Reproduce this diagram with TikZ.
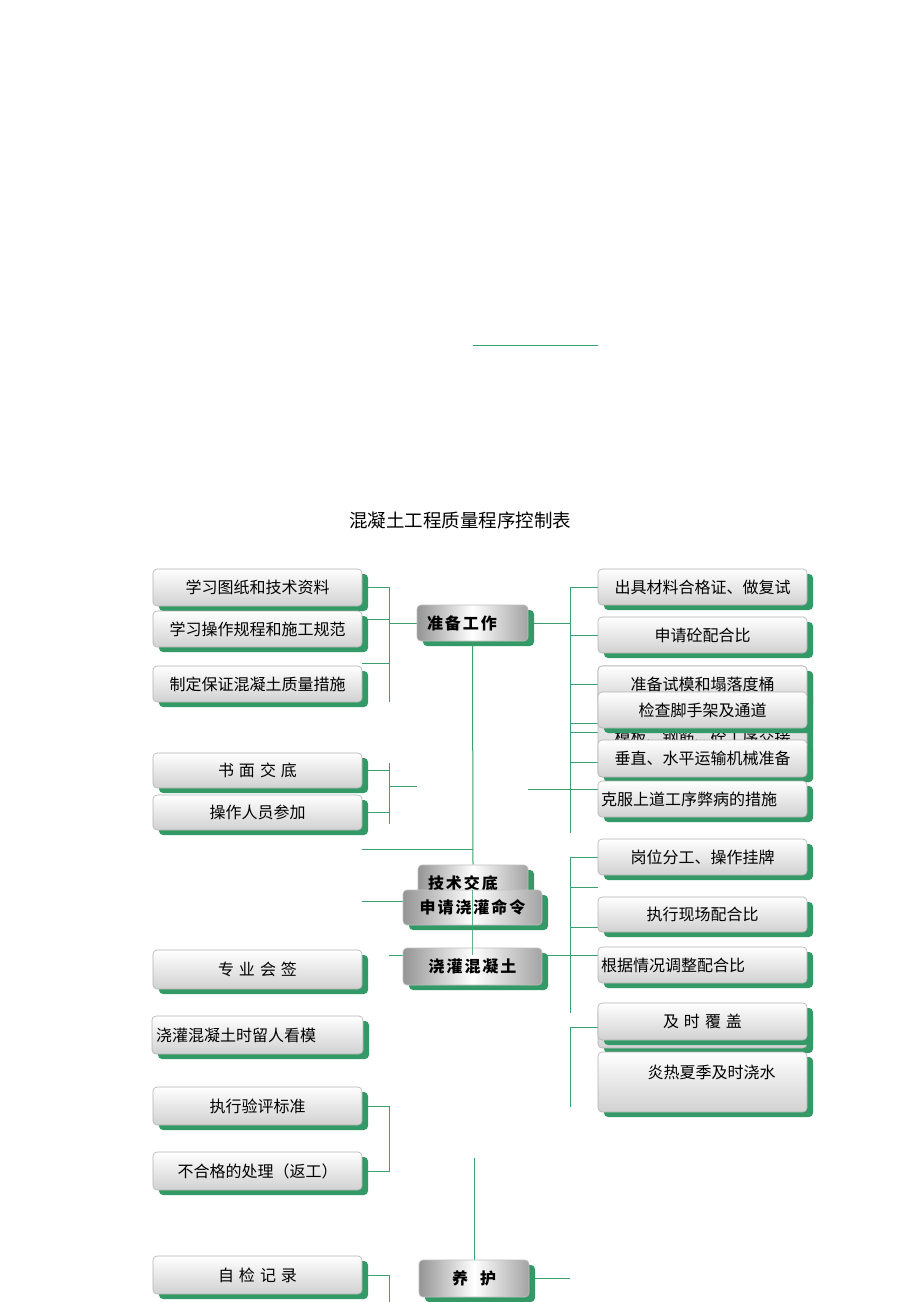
\documentclass[tikz,border=0pt]{standalone}
\usepackage{fontspec}
\newfontfamily\cjk{Noto Sans CJK SC}
\newfontfamily\cjkhub[LetterSpace=12]{Noto Sans CJK SC}
\usepackage{tikz}
\usetikzlibrary{positioning}
\usetikzlibrary{shadows,backgrounds}
\definecolor{boxgreen}{RGB}{51,153,102}
\definecolor{wire}{RGB}{58,160,108}
\tikzstyle{item}=[draw=black!30,line width=0.6,rounded corners=4,top color=white,bottom color=black!18,
                  minimum width=209,minimum height=37,inner sep=0,text=black,
                  font=\cjk\fontsize{16}{16}\selectfont,
                  drop shadow={shadow xshift=6pt,shadow yshift=-5pt,fill=boxgreen,opacity=1}]
\tikzstyle{flushitem}=[item,align=left,text width=203]
\tikzstyle{hub}=[draw=black!25,line width=0.6,rounded corners=4,left color=black!42,right color=black!36,
                 middle color=white,minimum height=36,inner sep=0,text=black,
                 font=\cjkhub\bfseries\fontsize{16}{16}\selectfont,
                 drop shadow={shadow xshift=6pt,shadow yshift=-5pt,fill=boxgreen,opacity=1}]
\tikzstyle{link}=[wire,line width=1]
\def\gap{\hspace{5pt}}

\begin{document}
\begin{tikzpicture}[x=1pt,y=-1pt]
  \clip (0,0) rectangle (920,1302);
  \coordinate (lbus) at (389,0); % left bus x
  \coordinate (rbus) at (570,0); % right bus x

  % TITLE
  \coordinate (rule-a) at (473,345);
  \coordinate (rule-b) at (598,345);
  \draw[link] (rule-a) -- (rule-b);
  \node[font=\cjk\fontsize{18.5}{18.5}\selectfont] (title) at (460,520) {混凝土工程质量程序控制表};

  % LEFT COLUMN
  \node[item] (l1) at (257.5,587.5) {学习图纸和技术资料};
  \node[item,minimum height=36] (l2) at (257.5,629) {学习操作规程和施工规范};
  \node[item,minimum height=36] (l3) at (257.5,684) {制定保证混凝土质量措施};
  \node[item,minimum height=35] (l4) at (257.5,770.5) {书\gap 面\gap 交\gap 底};
  \node[item,minimum height=35] (l5) at (257.5,812.5) {操作人员参加};
  \node[item,minimum height=39] (l6) at (257.5,969.5) {专\gap 业\gap 会\gap 签};
  \node[flushitem,minimum height=38,inner xsep=4] (l7) at (257.5,1035) {浇灌混凝土时留人看模};
  \node[item,minimum height=38] (l8) at (257.5,1106) {执行验评标准};
  \node[item,minimum height=38] (l9) at (257.5,1171) {不合格的处理（返工）};
  \node[item,minimum height=38] (l10) at (257.5,1275) {自\gap 检\gap 记\gap 录};

  % CENTRE
  \node[hub,minimum width=111,align=left,text width=91] (prep) at (472.5,623) {准备工作};
  \node[hub,minimum width=110,align=left,text width=90] (brief) at (473,883) {技术交底};
  \node[hub,minimum width=139,minimum height=35] (apply) at (472.5,907.5) {申请浇灌命令};
  \node[hub,minimum width=139,minimum height=37] (pour) at (472.5,966.5) {浇灌混凝土};
  \node[hub,minimum width=110,minimum height=37] (cure) at (474,1278.5) {养\hspace{12pt}护};

  % RIGHT COLUMN
  \node[item,minimum height=36] (r1) at (702.5,587) {出具材料合格证、做复试};
  \node[item,minimum height=36] (r2) at (702.5,635) {申请砼配合比};
  \node[item,minimum height=111] (r3b) at (702.5,721.5) {};
  \node[font=\cjk\fontsize{16}{16}\selectfont] (r5) at (702.5,737) {模板、钢筋、砼工序交接};
  \node[item,minimum height=37] (r3) at (702.5,684.5) {准备试模和塌落度桶};
  \node[item,minimum height=36] (r4) at (702.5,710) {检查脚手架及通道};
  \node[item,minimum height=37] (r6) at (702.5,758.5) {垂直、水平运输机械准备};
  \node[flushitem,minimum height=36] (r7) at (702.5,799) {克服上道工序弊病的措施};
  \node[item,minimum height=36] (r8) at (702.5,857) {岗位分工、操作挂牌};
  \node[item,minimum height=35] (r9) at (702.5,914.5) {执行现场配合比};
  \node[flushitem,minimum height=36] (r10) at (702.5,965) {根据情况调整配合比};
  \node[item,minimum height=40] (r11b) at (702.5,1028) {};
  \node[item,minimum height=37] (r11) at (702.5,1021.5) {及\gap 时\gap 覆\gap 盖};
  \node[item,minimum height=60,text height=22,text depth=30,inner ysep=4] (r12) at (702.5,1082)
    {\hspace{18pt}炎热夏季及时浇水};

  % CONNECTORS
  \begin{scope}[on background layer]
    \coordinate (a-end) at (389,702);
    \draw[link] (l1.east) -- (l1.east -| lbus) -- (a-end);
    \draw[link] ([yshift=10pt]l2.east) -- ([yshift=10pt]l2.east -| lbus);
    \draw[link] ([yshift=2pt]l3.north east) -- ([yshift=2pt]l3.north east -| lbus);
    \draw[link] (prep.west -| lbus) -- (prep.west);
    \draw[link] (prep.south) -- (brief.north);
    \coordinate (b-end) at (570,833);
    \draw[link] (prep.east) -- (prep.east -| rbus);
    \draw[link] (r1.west -| rbus) -- (b-end);
    \foreach \n in {r1,r2,r3} \draw[link] (\n.west) -- (\n.west -| rbus);
    \draw[link] ([yshift=-13pt]r4.west) -- ([yshift=-13pt]r4.west -| rbus);
    \draw[link] ([yshift=-22pt]r4.west) -- ([yshift=-22pt]r4.west -| rbus);
    \draw[link] ([yshift=-3.5pt]r6.west) -- ([yshift=-3.5pt]r6.west -| rbus);
    \draw[link] ([yshift=10pt]r7.west) -- ([yshift=10pt]r7.west -| brief.east);
    % briefing
    \coordinate (c-top) at (389,763);
    \coordinate (c-end) at (389,824);
    \coordinate (c-tip) at (417,786);
    \draw[link] (c-top) -- (c-end);
    \draw[link] (l4.east) -- (l4.east -| lbus);
    \draw[link] (l5.east) -- (l5.east -| lbus);
    \draw[link] (c-tip -| lbus) -- (c-tip);
    \coordinate (j1) at (362,849);
    \draw[link] (j1) -- (j1 -| prep.south);
    \draw[link] ([yshift=6.5pt]apply.west) -- ([yshift=6.5pt]apply.west -| l5.east);
    \draw[link] ([yshift=11.5pt]pour.west) -- ([yshift=11.5pt]pour.west -| lbus);
    \draw[link] ([yshift=11.5pt]pour.east) -- ([yshift=11.5pt]pour.east -| r10.west);
    % pouring
    \coordinate (d-end) at (570,1013);
    \draw[link] (r8.west -| rbus) -- (d-end);
    \draw[link] (r8.west) -- (r8.west -| rbus);
    \draw[link] ([yshift=-30pt]r8.west) -- ([yshift=-30pt]r8.west -| rbus);
    \draw[link] ([yshift=-12.5pt]r9.west) -- ([yshift=-12.5pt]r9.west -| rbus);
    % curing
    \coordinate (e-end) at (570,1107);
    \draw[link] ([yshift=-5.5pt]r11.west) -- ([yshift=-5.5pt]r11.west -| rbus) -- (e-end);
    \draw[link] (l8.east) -- (l8.east -| lbus) -- (l9.east -| lbus) -- (l9.east);
    \coordinate (f-top) at (474,1158);
    \draw[link] (f-top) -- (cure.north);
    \draw[link] (cure.south) -- ++(0,20);
    \draw[link] (cure.east) -- (cure.east -| rbus);
    \draw[link] (l10.east) -- (l10.east -| lbus) -- ++(0,40);
  \end{scope}
  \draw[link,opacity=0.8] (apply.north) -- ([yshift=-7pt]pour.north);
\end{tikzpicture}
\end{document}
